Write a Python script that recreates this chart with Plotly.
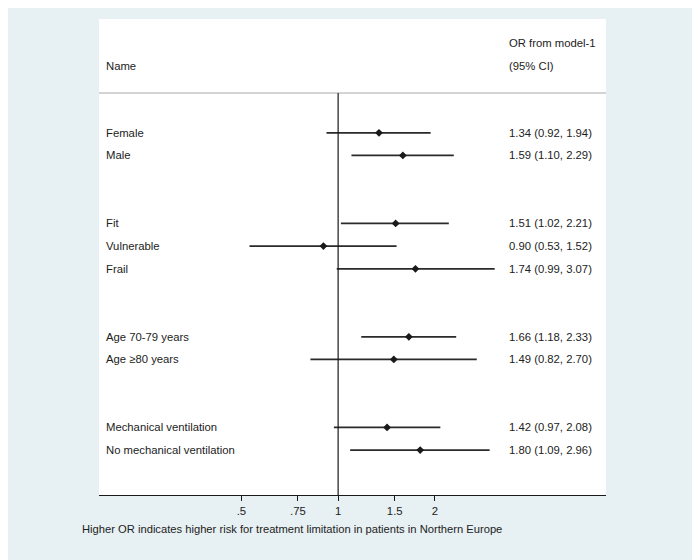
import plotly.graph_objects as go

names = ["Female", "Male", "Fit", "Vulnerable", "Frail", "Age 70-79 years",
         "Age \u226580 years", "Mechanical ventilation", "No mechanical ventilation"]
rows = [0, 1, 4, 5, 6, 9, 10, 13, 14]
or_vals = [1.34, 1.59, 1.51, 0.90, 1.74, 1.66, 1.49, 1.42, 1.80]
ci_lo = [0.92, 1.10, 1.02, 0.53, 0.99, 1.18, 0.82, 0.97, 1.09]
ci_hi = [1.94, 2.29, 2.21, 1.52, 3.07, 2.33, 2.70, 2.08, 2.96]
tick_vals = [0.5, 0.75, 1, 1.5, 2]
tick_text = [".5", ".75", "1", "1.5", "2"]

FONT = "Liberation Sans, Arial, sans-serif"
TXT = "#222222"
FS = 11.3

lx, ly = [], []
for r, lo, hi in zip(rows, ci_lo, ci_hi):
    lx += [lo, hi, None]
    ly += [r, r, None]

fig = go.Figure()
fig.add_trace(go.Scatter(x=lx, y=ly, mode="lines",
                         line=dict(color="#2a2a2a", width=1.7),
                         hoverinfo="skip", showlegend=False))
fig.add_trace(go.Scatter(x=or_vals, y=rows, mode="markers",
                         marker=dict(symbol="diamond", size=6, color="#1a1a1a"),
                         showlegend=False))

NX, OX = 0.0099, 0.804
annotations = []
for n, r, o, lo, hi in zip(names, rows, or_vals, ci_lo, ci_hi):
    annotations.append(dict(x=NX, y=r, xref="paper", yref="y", text=n,
                            xanchor="left", yanchor="middle", showarrow=False,
                            font=dict(family=FONT, size=FS, color=TXT)))
    annotations.append(dict(x=OX, y=r, xref="paper", yref="y",
                            text=f"{o:.2f} ({lo:.2f}, {hi:.2f})",
                            xanchor="left", yanchor="middle", showarrow=False,
                            font=dict(family=FONT, size=FS, color=TXT)))
annotations += [
    dict(x=NX, y=-2.96, xref="paper", yref="y", text="Name", xanchor="left",
         yanchor="middle", showarrow=False, font=dict(family=FONT, size=FS, color=TXT)),
    dict(x=OX, y=-3.94, xref="paper", yref="y", text="OR from model-1", xanchor="left",
         yanchor="middle", showarrow=False, font=dict(family=FONT, size=FS, color=TXT)),
    dict(x=OX, y=-2.96, xref="paper", yref="y", text="(95% CI)", xanchor="left",
         yanchor="middle", showarrow=False, font=dict(family=FONT, size=FS, color=TXT)),
    dict(x=-0.0375, y=-0.0706, xref="paper", yref="paper",
         text="Higher OR indicates higher risk for treatment limitation in patients in Northern Europe",
         xanchor="left", yanchor="middle", showarrow=False,
         font=dict(family=FONT, size=11.2, color=TXT)),
]

shapes = [
    dict(type="line", xref="paper", yref="y", x0=0, x1=1, y0=-1.76, y1=-1.76,
         line=dict(color="#d4d4d4", width=2)),
    dict(type="line", xref="x", yref="y", x0=1, x1=1, y0=-1.76, y1=15.98,
         line=dict(color="#1a1a1a", width=1.2)),
]

fig.update_layout(
    width=700, height=560,
    margin=dict(l=91, r=102, t=11, b=73),
    paper_bgcolor="#e7f0f2", plot_bgcolor="#ffffff",
    annotations=annotations, shapes=shapes,
    font=dict(family=FONT, size=FS, color=TXT),
    xaxis=dict(type="log", range=[-0.744, 0.8334], tickvals=tick_vals, ticktext=tick_text,
               showline=True, linecolor="#1a1a1a", linewidth=1.2, ticks="outside",
               ticklen=5, tickcolor="#1a1a1a", showgrid=False, zeroline=False,
               tickfont=dict(family=FONT, size=FS, color=TXT), fixedrange=True),
    yaxis=dict(range=[15.98, -5.02], visible=False, showgrid=False, zeroline=False,
               fixedrange=True),
)

fig.write_html("out.html")
